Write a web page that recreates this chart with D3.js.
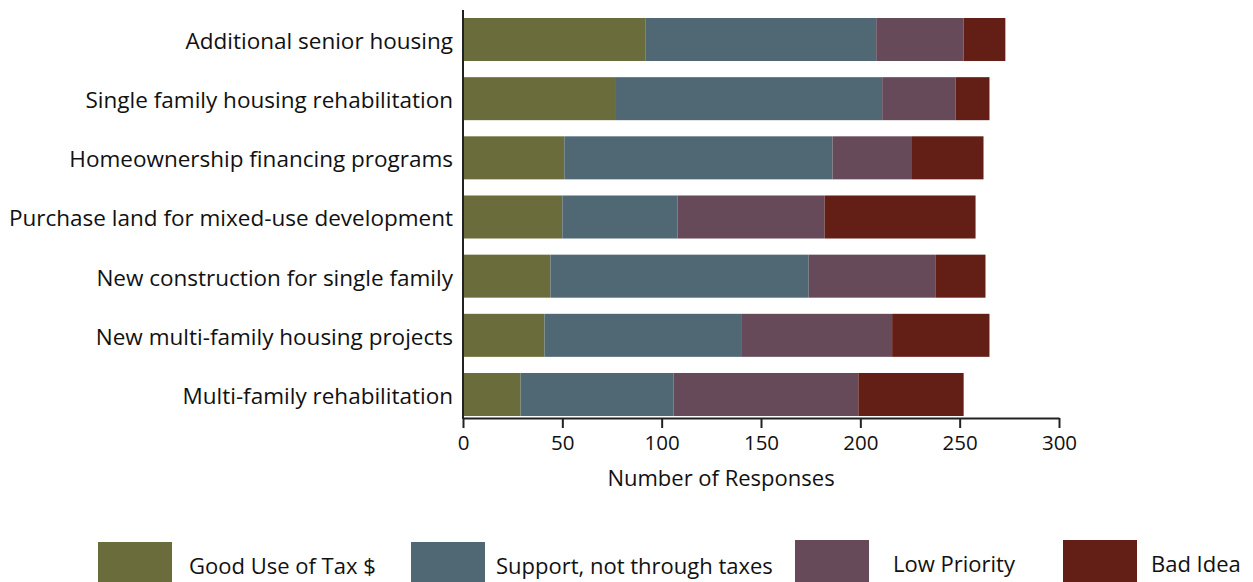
<!DOCTYPE html>
<html><head><meta charset="utf-8">
<script src="https://cdn.jsdelivr.net/npm/d3@7"></script>
<style>body{margin:0;background:#fff;}svg{display:block;}text{font-family:"Open Sans",sans-serif;fill:#111;}</style>
</head><body><svg id="c" width="1253" height="582"></svg>
<script>
const categories = ["Additional senior housing","Single family housing rehabilitation","Homeownership financing programs","Purchase land for mixed-use development","New construction for single family","New multi-family housing projects","Multi-family rehabilitation"];
const seriesNames = ["Good Use of Tax $","Support, not through taxes","Low Priority","Bad Idea"];
const goodUse = [92,77,51,50,44,41,29];
const supportNoTax = [116,134,135,58,130,99,77];
const lowPriority = [44,37,40,74,64,76,93];
const badIdea = [21,17,36,76,25,49,53];
const xTicks = [0,50,100,150,200,250,300];
const colors = ["#6a6d3b","#4f6874","#674a59","#631f15"];

const svg = d3.select("#c");
const x = d3.scaleLinear().domain([0,300]).range([463,1059]);
const y = d3.scaleBand().domain(categories).range([18,416]).paddingInner(0.273).paddingOuter(0);

const rows = categories.map((c,i)=>({cat:c, v:[goodUse[i],supportNoTax[i],lowPriority[i],badIdea[i]]}));
const keys = [0,1,2,3];
const stack = d3.stack().keys(keys).value((d,k)=>d.v[k]);
const layers = stack(rows);

svg.append("g").selectAll("g").data(layers).join("g")
  .attr("fill",(d,i)=>colors[i])
  .selectAll("rect").data(d=>d).join("rect")
  .attr("x",d=>x(d[0])).attr("width",d=>x(d[1])-x(d[0]))
  .attr("y",d=>y(d.data.cat)).attr("height",y.bandwidth());

// x axis
const xa = svg.append("g").attr("transform","translate(0,418)")
  .call(d3.axisBottom(x).tickValues(xTicks).tickSize(10).tickSizeOuter(0));
xa.select(".domain").attr("stroke","#222").attr("stroke-width",2);
xa.selectAll(".tick line").attr("stroke","#222").attr("stroke-width",2);
xa.selectAll(".tick text").attr("font-size",20.5).attr("dy","0.95em").attr("font-family","'Open Sans',sans-serif").attr("fill","#111");

// y axis line
svg.append("line").attr("x1",463).attr("x2",463).attr("y1",10).attr("y2",419).attr("stroke","#222").attr("stroke-width",2);

// category labels
svg.append("g").selectAll("text").data(categories).join("text")
  .attr("x",453).attr("y",d=>y(d)+y.bandwidth()/2).attr("dy","0.42em")
  .attr("text-anchor","end").attr("font-size",22.5).text(d=>d);

svg.append("text").attr("x",721).attr("y",486).attr("text-anchor","middle").attr("font-size",22).text("Number of Responses");

// legend
const legX = [98,411,795,1063];
const legTX = [189,496,893,1151];
const legY = [542,542,540,540];
const lg = svg.append("g");
seriesNames.forEach((n,i)=>{
  lg.append("rect").attr("x",legX[i]).attr("y",legY[i]).attr("width",74).attr("height",42).attr("fill",colors[i]);
  lg.append("text").attr("x",legTX[i]).attr("y",legY[i]+24).attr("dy","0.35em").attr("font-size",22).text(n);
});
</script></body></html>
